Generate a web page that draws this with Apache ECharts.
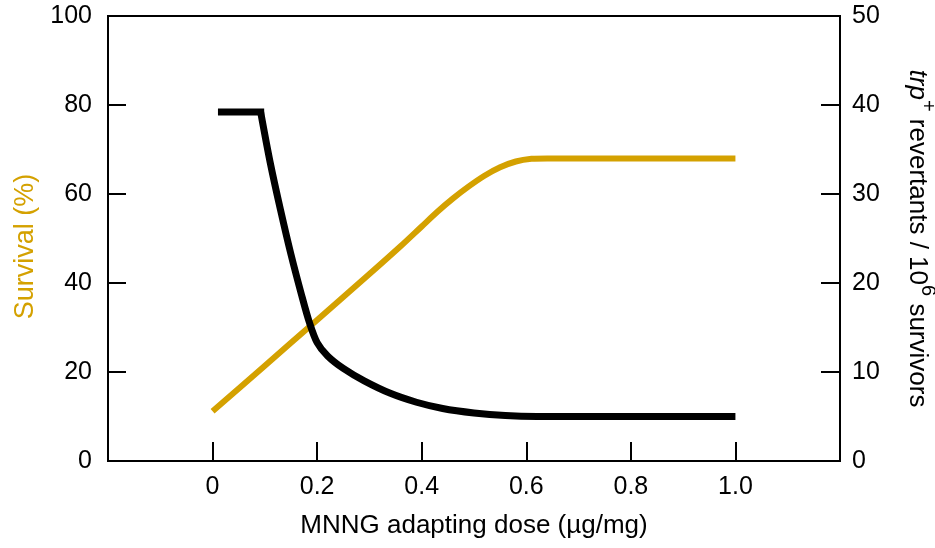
<!DOCTYPE html>
<html>
<head>
<meta charset="utf-8">
<title>Survival and trp+ revertants vs MNNG adapting dose</title>
<script src="https://cdn.jsdelivr.net/npm/echarts@6/dist/echarts.min.js"></script>
<style>
  html, body { margin: 0; padding: 0; background: #fff; }
  #chart { width: 935px; height: 548px; }
</style>
</head>
<body>
<div id="chart"></div>
<script>
// values
var xTickLabels = ['0', '0.2', '0.4', '0.6', '0.8', '1.0'];

// survival (%), left axis
var survivalDose = [0, 0.1, 0.2, 0.3, 0.36, 0.4, 0.43, 0.46, 0.49, 0.52, 0.55, 0.58, 0.61, 0.64, 1.0];
var survival     = [11.2, 21.4, 31.7, 42.0, 48.3, 52.7, 56.0, 59.0, 61.7, 64.1, 66.0, 67.3, 67.9, 68, 68];

// trp+ revertants / 10^6 survivors, right axis
// plateau at the lowest doses, then the falling curve
var plateauDose = [0.017, 0.092];
var plateau     = [39.2, 39.2];
var revertDose = [0.092, 0.11, 0.13, 0.15, 0.17, 0.185, 0.2, 0.22, 0.25, 0.29, 0.34, 0.39, 0.44, 0.5, 0.56, 0.62, 1.0];
var revertants = [39.2, 33.6, 28.2, 23.2, 18.7, 15.6, 13.3, 11.8, 10.4, 9.0, 7.6, 6.6, 5.9, 5.4, 5.1, 5.0, 5.0];

var gold = '#d4a100';
var font = 'Liberation Sans, Arial, Helvetica, sans-serif';

function pairs(xs, ys) {
    var out = [];
    for (var i = 0; i < xs.length; i++) out.push([xs[i], ys[i]]);
    return out;
}

var chart = echarts.init(document.getElementById('chart'));

chart.setOption({
    animation: false,
    textStyle: { fontFamily: font },
    grid: {
        left: 108, right: 95, top: 16, bottom: 87,
        outerBoundsMode: 'none',
        containLabel: false,
        show: true, borderColor: '#000', borderWidth: 2
    },
    xAxis: {
        type: 'value',
        min: -0.2, max: 1.2, interval: 0.2,
        name: 'MNNG adapting dose (\u00b5g/mg)',
        nameLocation: 'middle',
        nameGap: 52,
        nameTextStyle: { fontSize: 26, color: '#000', fontFamily: font },
        axisLine: { onZero: false, lineStyle: { color: '#000', width: 2 } },
        axisTick: { inside: true, length: 19, lineStyle: { color: '#000', width: 2 } },
        axisLabel: {
            fontSize: 25, color: '#000', margin: 14,
            formatter: function (v) {
                var k = Math.round(v / 0.2);
                return (k >= 0 && k < xTickLabels.length) ? xTickLabels[k] : '';
            }
        },
        splitLine: { show: false }
    },
    yAxis: [{
        type: 'value',
        min: 0, max: 100, interval: 20,
        position: 'left',
        name: 'Survival (%)',
        nameLocation: 'middle',
        nameGap: 69,
        nameTextStyle: { fontSize: 27, color: gold, fontFamily: font, padding: [0, 16, 0, 0] },
        axisLine: { show: true, onZero: false, lineStyle: { color: '#000', width: 2 } },
        axisTick: { show: true, inside: true, length: 18, lineStyle: { color: '#000', width: 2 } },
        axisLabel: { fontSize: 25, color: '#000', margin: 16 },
        splitLine: { show: false }
    }, {
        type: 'value',
        min: 0, max: 50, interval: 10,
        position: 'right',
        name: '{i|trp}{sup|+}{a| revertants / 10}{sup|6}{a| survivors}',
        nameLocation: 'middle',
        nameRotate: -90,
        nameGap: 56,
        nameTextStyle: {
            fontSize: 26, color: '#000', fontFamily: font,
            rich: {
                a: { fontSize: 26, color: '#000', fontFamily: font, lineHeight: 42 },
                i: { fontSize: 26, color: '#000', fontFamily: font, fontStyle: 'italic', lineHeight: 42 },
                sup: { fontSize: 20, color: '#000', fontFamily: font, verticalAlign: 'top', lineHeight: 18 }
            }
        },
        axisLine: { show: true, onZero: false, lineStyle: { color: '#000', width: 2 } },
        axisTick: { show: true, inside: true, length: 19, lineStyle: { color: '#000', width: 2 } },
        axisLabel: { fontSize: 25, color: '#000', margin: 12 },
        splitLine: { show: false }
    }],
    series: [{
        name: 'Survival',
        type: 'line',
        yAxisIndex: 0,
        data: pairs(survivalDose, survival),
        showSymbol: false,
        smooth: 0.3,
        lineStyle: { color: gold, width: 6, join: 'round' }
    }, {
        name: 'Revertants plateau',
        type: 'line',
        yAxisIndex: 1,
        data: pairs(plateauDose, plateau),
        showSymbol: false,
        lineStyle: { color: '#000', width: 7, cap: 'square' }
    }, {
        name: 'Revertants',
        type: 'line',
        yAxisIndex: 1,
        data: pairs(revertDose, revertants),
        showSymbol: false,
        smooth: 0.3,
        lineStyle: { color: '#000', width: 7, join: 'round' }
    }]
});
</script>
</body>
</html>
